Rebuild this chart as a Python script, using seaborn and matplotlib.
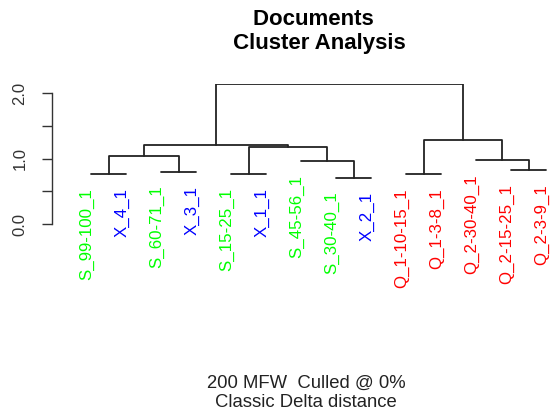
import numpy as np
import pandas as pd
import matplotlib
matplotlib.use("Agg")
import matplotlib.pyplot as plt
import seaborn as sns

# ---- data ----
leaf_labels = ["S_99-100_1", "X_4_1", "S_60-71_1", "X_3_1", "S_15-25_1", "X_1_1",
               "S_45-56_1", "S_30-40_1", "X_2_1", "Q_1-10-15_1", "Q_1-3-8_1",
               "Q_2-30-40_1", "Q_2-15-25_1", "Q_2-3-9_1"]
leaf_colors = ["#00FF00", "#0000FF", "#00FF00", "#0000FF", "#00FF00", "#0000FF",
               "#00FF00", "#00FF00", "#0000FF", "#FF0000", "#FF0000",
               "#FF0000", "#FF0000", "#FF0000"]
# R-style merge table: negative = leaf (1-based display order), positive = earlier merge (1-based)
merge_a = [-8, -1, -5, -10, -3, -13, -7, -12, 2, 3, 9, 4, 11]
merge_b = [-9, -2, -6, -11, -4, -14, 1, 6, 5, 7, 10, 8, 12]
merge_h = [0.71, 0.76, 0.76, 0.76, 0.80, 0.82, 0.97, 0.98, 1.04, 1.17, 1.21, 1.28, 2.145]
y_ticks = [0.0, 0.5, 1.0, 1.5, 2.0]
y_ticklabels = ["0.0", "", "1.0", "", "2.0"]
title = "Documents \n Cluster Analysis"
xlab = "200 MFW  Culled @ 0%\nClassic Delta distance"
hang = 0.1

# ---- build segments ----
leaf_x = np.arange(1, len(leaf_labels) + 1)
node_x, node_h = [], []
rows = []
def child(c):
    if c < 0:
        return leaf_x[-c - 1], None
    return node_x[c - 1], node_h[c - 1]
for i, (a, b, h) in enumerate(zip(merge_a, merge_b, merge_h)):
    xa, ha = child(a)
    xb, hb = child(b)
    pts = [(xa, ha if ha is not None else h), (xa, h), (xb, h), (xb, hb if hb is not None else h)]
    for j, (px, py) in enumerate(pts):
        rows.append({"seg": i, "order": j, "x": px, "y": py})
    node_x.append((xa + xb) / 2)
    node_h.append(h)
seg_df = pd.DataFrame(rows)

# leaf heights (merge height each leaf joins at)
leaf_h = np.zeros(len(leaf_labels))
for a, b, h in zip(merge_a, merge_b, merge_h):
    for c in (a, b):
        if c < 0:
            leaf_h[-c - 1] = h
top = max(merge_h)

# ---- plot ----
sns.set_theme(style="white")
plt.rcParams["font.family"] = ["Liberation Sans", "DejaVu Sans"]

W, H = 555, 418
fig = plt.figure(figsize=(W / 100, H / 100), dpi=100)
ax_left_px, y0_px, ytop_px = 51.7, 224.0, 83.7
ax = fig.add_axes([ax_left_px / W, 1 - y0_px / H, (W - ax_left_px) / W, (y0_px - ytop_px) / H])

sns.lineplot(data=seg_df, x="x", y="y", units="seg", estimator=None, sort=False,
             color="#222222", linewidth=1.3, ax=ax, legend=False)

sp = 35.0
ax.set_xlim(1 - (91 - ax_left_px) / sp, len(leaf_labels) + (W - 546) / sp)
ax.set_ylim(0, top)

for x, h, lab, col in zip(leaf_x, leaf_h, leaf_labels, leaf_colors):
    ax.text(x - 0.11, h - hang * top, lab, rotation=90, ha="center", va="top",
            color=col, fontsize=12.2, clip_on=False)

for s in ["top", "right", "bottom"]:
    ax.spines[s].set_visible(False)
ax.spines["left"].set_bounds(0, 2)
ax.spines["left"].set_color("#333333")
ax.spines["left"].set_linewidth(1.0)
ax.set_xticks([])
ax.set_yticks(y_ticks)
ax.set_yticklabels(y_ticklabels, rotation=90, va="center")
ax.tick_params(axis="y", direction="out", length=7.5, width=1.0, color="#333333",
               labelsize=12, labelcolor="#333333", pad=10, left=True)
ax.set_xlabel("")
ax.set_ylabel("")

fig.text(316 / W, 1 - 31.5 / H, title, ha="center", va="center", fontsize=16,
         fontweight="bold", linespacing=1.2, color="black")
fig.text(306 / W, 1 - 393 / H, xlab, ha="center", va="center", fontsize=13.3,
         linespacing=1.2, color="#222222")

fig.savefig("out.png", dpi=100)
